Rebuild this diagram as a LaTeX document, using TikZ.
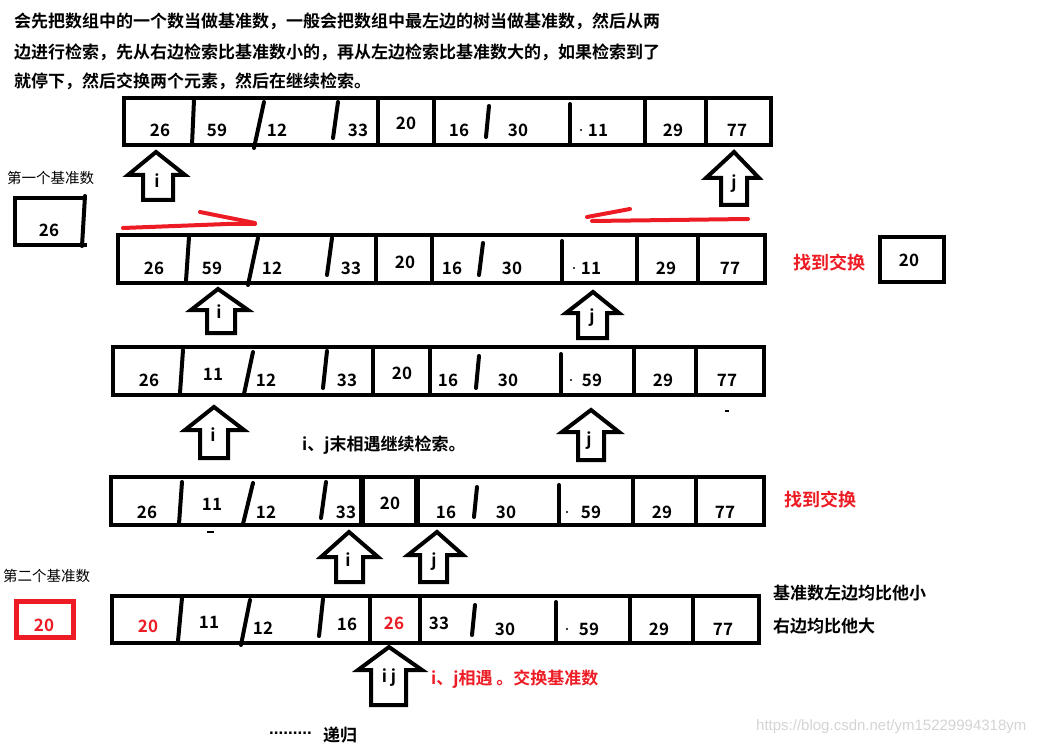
\documentclass[tikz,border=0pt]{standalone}
\usepackage{fontspec}
\setmainfont{Noto Sans CJK SC}[BoldFont={Noto Sans CJK SC Bold}]
\newfontfamily\wmfont{Liberation Sans}
\definecolor{pred}{HTML}{ED1C24}
\definecolor{wmgray}{HTML}{D4D4D4}
\newcommand\uparr[8]{\draw[arr] (#1,#2) -- (#5,#3) -- (#7,#3) -- (#7,#8) -- (#6,#8) -- (#6,#3) -- (#4,#3) -- cycle;}
\tikzset{
  num/.style={font=\bfseries\fontsize{17}{17}\selectfont, inner sep=0pt},
  rnum/.style={num, text=pred},
  txt/.style={font=\bfseries\fontsize{17}{17}\selectfont, inner sep=0pt, anchor=west},
  small/.style={font=\fontsize{14.5}{14.5}\selectfont, inner sep=0pt, anchor=west},
  rowbox/.style={line width=4.5pt},
  div/.style={line width=4pt, line cap=round},
  arr/.style={line width=4pt, line join=miter},
  redstroke/.style={draw=pred, line width=4pt, line cap=round},
  lbl/.style={font=\bfseries\fontsize{17}{17}\selectfont, inner sep=0pt},
}
\begin{document}
\begin{tikzpicture}[x=1pt,y=-1pt]
\useasboundingbox (0,0) rectangle (1050,746);
% top text
\node[txt] (t1) at (14,21) {会先把数组中的一个数当做基准数，一般会把数组中最左边的树当做基准数，然后从两};
\node[txt] (t2) at (14,52) {边进行检索，先从右边检索比基准数小的，再从左边检索比基准数大的，如果检索到了};
\node[txt] (t3) at (14,81) {就停下，然后交换两个元素，然后在继续检索。};

% ---------- row 1 ----------
\draw[rowbox] (124,98) rectangle (771,145);
\draw[div] (194,100) -- (192,145);
\draw[div] (264,102) -- (254,148);
\draw[div] (338,102) -- (333,138);
\draw[rowbox] (378,98) -- (378,145);
\draw[rowbox] (434,98) -- (434,145);
\draw[div] (489,106) -- (486,137);
\draw[div] (570,104) -- (570,145);
\draw[rowbox] (645,98) -- (645,145);
\draw[rowbox] (706,98) -- (706,145);
\node[num] (a1) at (160,130) {26};
\node[num] (a2) at (217,130) {59};
\node[num] (a3) at (277,130) {12};
\node[num] (a4) at (358,130) {33};
\node[num] (a5) at (406,123) {20};
\node[num] (a6) at (459,130) {16};
\node[num] (a7) at (518,130) {30};
\fill (581,130) circle (1.1);
\node[num] (a8) at (598,130) {11};
\node[num] (a9) at (673,130) {29};
\node[num] (a10) at (737,130) {77};
\uparr{156}{152}{175}{128}{185}{143}{173}{200}
\node[lbl] (ai) at (157,181) {i};
\uparr{734}{152}{178}{706}{759}{721}{747}{205}
\node[lbl] (aj) at (734,184) {j};

% first pivot
\node[small] (p1) at (7,178) {第一个基准数};
\draw[rowbox] (85,198) -- (15,198) -- (15,245) -- (87,245);
\draw[div] (85,196) -- (82,246);
\node[num] (p1v) at (49,230) {26};

% red strokes
\draw[redstroke] (123,228) -- (227,224) -- (255,224);
\draw[redstroke] (200,212) -- (255,223);
\draw[redstroke] (592,221) -- (748,219);
\draw[redstroke] (587,217) -- (630,209);

% ---------- row 2 ----------
\draw[rowbox] (118,235) rectangle (765,283);
\draw[div] (189,237) -- (186,281);
\draw[div] (258,238) -- (248,285);
\draw[div] (332,238) -- (327,275);
\draw[rowbox] (376,235) -- (376,283);
\draw[rowbox] (432,235) -- (432,283);
\draw[div] (483,243) -- (479,275);
\draw[div] (562,241) -- (562,283);
\draw[rowbox] (637,235) -- (637,283);
\draw[rowbox] (698,235) -- (698,283);
\node[num] (b1) at (154,268) {26};
\node[num] (b2) at (212,268) {59};
\node[num] (b3) at (272,268) {12};
\node[num] (b4) at (351,268) {33};
\node[num] (b5) at (405,262) {20};
\node[num] (b6) at (452,268) {16};
\node[num] (b7) at (512,268) {30};
\fill (574,268) circle (1.1);
\node[num] (b8) at (591,268) {11};
\node[num] (b9) at (666,268) {29};
\node[num] (b10) at (730,268) {77};
\node[txt, text=pred, font=\bfseries\fontsize{18}{18}\selectfont] (f1) at (793,263) {找到交换};
\draw[rowbox] (880,237) rectangle (944,282);
\node[num] (s1) at (909,260) {20};
\uparr{218}{289}{310}{191}{248}{207}{235}{333}
\node[lbl] (bi) at (219,312) {i};
\uparr{593}{292}{313}{566}{619}{578}{607}{338}
\node[lbl] (bj) at (592,318) {j};

% ---------- row 3 ----------
\draw[rowbox] (113,347) rectangle (764,395);
\draw[div] (183,350) -- (180,393);
\draw[div] (253,352) -- (244,394);
\draw[div] (327,351) -- (323,388);
\draw[rowbox] (373,347) -- (373,395);
\draw[rowbox] (430,347) -- (430,395);
\draw[div] (479,356) -- (476,388);
\draw[div] (561,354) -- (561,395);
\draw[rowbox] (634,347) -- (634,395);
\draw[rowbox] (696,347) -- (696,395);
\node[num] (c1) at (149,380) {26};
\node[num] (c2) at (213,374) {11};
\node[num] (c3) at (266,380) {12};
\node[num] (c4) at (347,380) {33};
\node[num] (c5) at (402,373) {20};
\node[num] (c6) at (448,380) {16};
\node[num] (c7) at (508,380) {30};
\fill (571,380) circle (1.1);
\node[num] (c8) at (592,380) {59};
\node[num] (c9) at (663,380) {29};
\node[num] (c10) at (727,380) {77};
\fill (725,410) rectangle (729,412);
\uparr{214}{407}{430}{185}{244}{200}{228}{458}
\node[lbl] (ci) at (213,435) {i};
\uparr{591}{410}{432}{562}{619}{578}{604}{460}
\node[lbl] (cj) at (589,441) {j};
\node[txt] (m1) at (302,445) {i、j末相遇继续检索。};

% ---------- row 4 ----------
\draw[rowbox] (111,477) rectangle (764,525);
\draw[div] (182,482) -- (179,524);
\draw[div] (253,483) -- (243,524);
\draw[div] (326,482) -- (321,518);
\draw[line width=5.5pt] (362,477) -- (362,525);
\draw[line width=5.5pt] (417,477) -- (417,525);
\draw[div] (477,487) -- (474,517);
\draw[div] (559,485) -- (559,525);
\draw[rowbox] (633,477) -- (633,525);
\draw[rowbox] (696,477) -- (696,525);
\node[num] (d1) at (147,512) {26};
\node[num] (d2) at (212,504) {11};
\node[num] (d3) at (266,512) {12};
\node[num] (d4) at (346,512) {33};
\node[num] (d5) at (390,503) {20};
\node[num] (d6) at (446,512) {16};
\node[num] (d7) at (506,512) {30};
\fill (567,512) circle (1.1);
\node[num] (d8) at (591,512) {59};
\node[num] (d9) at (662,512) {29};
\node[num] (d10) at (725,512) {77};
\fill (207,531) rectangle (214,533);
\node[txt, text=pred, font=\bfseries\fontsize{18}{18}\selectfont] (f2) at (784,500) {找到交换};
\uparr{349}{532}{557}{321}{378}{336}{363}{582}
\node[lbl] (di) at (348,560) {i};
\uparr{437}{532}{555}{408}{463}{420}{447}{582}
\node[lbl] (dj) at (434,562) {j};

% second pivot
\node[small] (p2) at (3,576) {第二个基准数};
\draw[draw=pred, line width=5pt] (16,601) rectangle (73,637);
\node[rnum] (p2v) at (44,625) {20};

% ---------- row 5 ----------
\draw[rowbox] (112,596) rectangle (759,643);
\draw[div] (182,598) -- (178,641);
\draw[div] (250,600) -- (241,645);
\draw[div] (323,599) -- (319,636);
\draw[rowbox] (370,596) -- (370,643);
\draw[rowbox] (420,596) -- (420,643);
\draw[div] (475,605) -- (472,635);
\draw[div] (556,602) -- (556,643);
\draw[rowbox] (630,596) -- (630,643);
\draw[rowbox] (693,596) -- (693,643);
\node[rnum] (e1) at (148,626) {20};
\node[num] (e2) at (209,622) {11};
\node[num] (e3) at (263,628) {12};
\node[num] (e4) at (347,624) {16};
\node[rnum] (e5) at (394,623) {26};
\node[num] (e6) at (439,623) {33};
\node[num] (e7) at (505,629) {30};
\fill (567,629) circle (1.1);
\node[num] (e8) at (589,629) {59};
\node[num] (e9) at (659,629) {29};
\node[num] (e10) at (723,629) {77};
\node[txt] (r1) at (773,593) {基准数左边均比他小};
\node[txt] (r2) at (773,626) {右边均比他大};
\uparr{389}{647}{670}{358}{422}{371}{406}{705}
\node[lbl] (eij) at (389,678) {i j};
\node[txt, text=pred] (m2) at (431,679) {i、j相遇 。交换基准数};

% bottom
\node[inner sep=0pt, anchor=base west, font=\wmfont\bfseries\fontsize{17}{17}\selectfont] (dots) at (269,734) {.........};
\node[txt] (rec) at (323,735) {递归};
\node[inner sep=0pt, anchor=west, text=wmgray, font=\wmfont\fontsize{15}{15}\selectfont] (wm) at (756,727) {https://blog.csdn.net/ym15229994318ym};
\end{tikzpicture}
\end{document}
